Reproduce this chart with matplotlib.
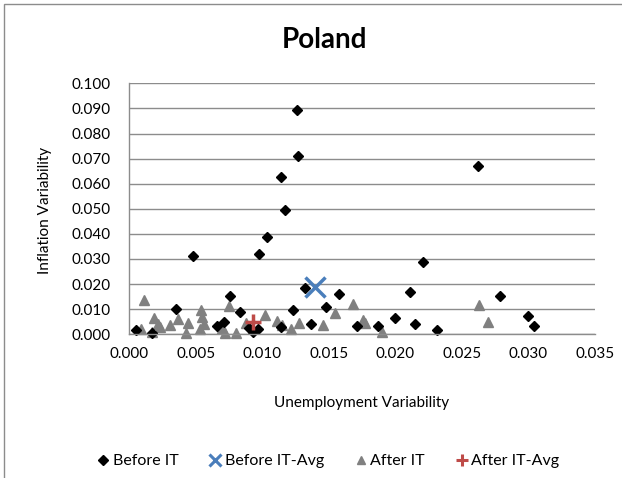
import matplotlib
matplotlib.use("Agg")
import matplotlib.pyplot as plt
from matplotlib.patches import Rectangle
from matplotlib.lines import Line2D

plt.rcParams['font.family'] = ['Lato', 'DejaVu Sans']

before_x = [0.0005, 0.0017, 0.0035, 0.0048, 0.0066, 0.0071, 0.0076, 0.0083, 0.0090,
            0.0093, 0.0097, 0.0098, 0.0104, 0.0114, 0.0117, 0.0114, 0.0123, 0.0126,
            0.0127, 0.0132, 0.0137, 0.0148, 0.0158, 0.0171, 0.0187, 0.0200, 0.0211,
            0.0215, 0.0221, 0.0231, 0.0262, 0.0279, 0.0300, 0.0304]
before_y = [0.0018, 0.0007, 0.0100, 0.0313, 0.0034, 0.0049, 0.0152, 0.0087, 0.0025,
            0.0010, 0.0022, 0.0319, 0.0389, 0.0627, 0.0495, 0.0028, 0.0096, 0.0895,
            0.0712, 0.0183, 0.0043, 0.0108, 0.0161, 0.0035, 0.0035, 0.0066, 0.0170,
            0.0040, 0.0288, 0.0017, 0.0671, 0.0154, 0.0074, 0.0033]

before_avg_x = [0.0140]
before_avg_y = [0.0190]

after_x = [0.0009, 0.00115, 0.0017, 0.0019, 0.0022, 0.0023, 0.0031, 0.0037, 0.0044,
           0.0043, 0.0054, 0.0055, 0.0056, 0.0053, 0.0070, 0.0072, 0.0075, 0.0080,
           0.0088, 0.0102, 0.0111, 0.0115, 0.0122, 0.0128, 0.0146, 0.0155, 0.0168,
           0.0176, 0.0177, 0.0190, 0.0263, 0.0270]
after_y = [0.0020, 0.0137, 0.0010, 0.0064, 0.0041, 0.0030, 0.0037, 0.0060, 0.0046,
           0.0004, 0.0097, 0.0070, 0.0040, 0.0021, 0.0024, 0.0005, 0.0112, 0.0004,
           0.0045, 0.0078, 0.0053, 0.0037, 0.0022, 0.0047, 0.0038, 0.0084, 0.0121,
           0.0058, 0.0045, 0.0010, 0.0117, 0.0050]

after_avg_x = [0.0093]
after_avg_y = [0.0050]

x_ticks = [0.000, 0.005, 0.010, 0.015, 0.020, 0.025, 0.030, 0.035]
y_ticks = [0.000, 0.010, 0.020, 0.030, 0.040, 0.050, 0.060, 0.070, 0.080, 0.090, 0.100]
series_names = ['Before IT', 'Before IT-Avg', 'After IT', 'After IT-Avg']

W, H = 622, 478
fig = plt.figure(figsize=(W / 100, H / 100), dpi=100)
fig.patches.append(Rectangle((4 / W, -0.1), 1.2, (H - 4) / H + 0.1, transform=fig.transFigure,
                             fill=False, edgecolor='#8c8c8c', linewidth=1.0))

ax = fig.add_axes([129 / W, (H - 334.3) / H, (595 - 129) / W, (334.3 - 83.3) / H])
ax.set_xlim(0, 0.035)
ax.set_ylim(0, 0.100)
ax.set_xticks(x_ticks)
ax.set_yticks(y_ticks)
ax.set_xticklabels([f"{v:.3f}" for v in x_ticks])
ax.set_yticklabels([f"{v:.3f}" for v in y_ticks])
ax.tick_params(length=0, labelsize=11, colors='black')
ax.tick_params(axis='y', pad=13)
ax.tick_params(axis='x', pad=9)
ax.grid(axis='y', color='#8c8c8c', linewidth=1.0)
ax.set_axisbelow(True)
for s in ['top', 'right']:
    ax.spines[s].set_visible(False)
for s in ['left', 'bottom']:
    ax.spines[s].set_color('#8c8c8c')
    ax.spines[s].set_linewidth(1.0)

ax.plot(after_x, after_y, linestyle='none', marker='^', markersize=7.5,
        color='#808080', clip_on=False)
ax.plot(before_x, before_y, linestyle='none', marker='D', markersize=5,
        color='black', clip_on=False)
ax.plot(before_avg_x, before_avg_y, linestyle='none', marker='x', markersize=14,
        markeredgewidth=2.5, color='#4a7ebb')
ax.plot(after_avg_x, after_avg_y, linestyle='none', marker='+', markersize=12,
        markeredgewidth=2.5, color='#be4b48')

fig.text(324 / W, 1 - 40 / H, 'Poland', ha='center', va='center',
         fontsize=20, fontweight='bold')
fig.text(362 / W, 1 - 403 / H, 'Unemployment Variability', ha='center', va='center',
         fontsize=11)
fig.text(45 / W, 1 - 210 / H, 'Inflation Variability', ha='center', va='center',
         fontsize=11, rotation=90)

leg_handles = [
    Line2D([], [], linestyle='none', marker='D', markersize=5, color='black'),
    Line2D([], [], linestyle='none', marker='x', markersize=9, markeredgewidth=2.2, color='#4a7ebb'),
    Line2D([], [], linestyle='none', marker='^', markersize=6, color='#808080'),
    Line2D([], [], linestyle='none', marker='+', markersize=9, markeredgewidth=2.2, color='#be4b48'),
]
fig.legend(leg_handles, series_names, loc='center', bbox_to_anchor=(328 / W, 1 - 461 / H),
           ncol=4, frameon=False, fontsize=11.5, handlelength=0.8, handletextpad=0.2,
           columnspacing=1.9)

fig.savefig('out.png', dpi=100)
